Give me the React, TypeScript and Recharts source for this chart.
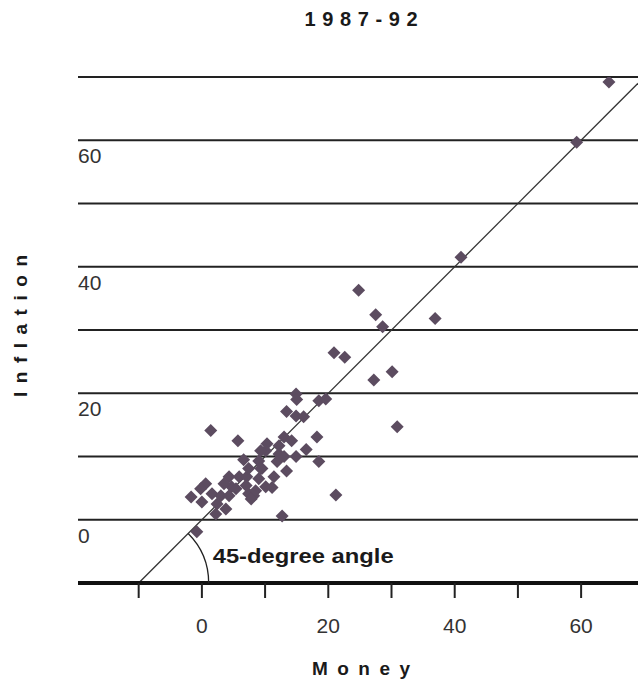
import React from 'react';
import { ScatterChart, Scatter, XAxis, YAxis, CartesianGrid, ReferenceLine, ReferenceDot } from 'recharts';

const title = '1987-92';
const xLabel = 'Money';
const yLabel = 'Inflation';
const angleNote = '45-degree angle';

const xTicks = [-10, 0, 10, 20, 30, 40, 50, 60];
const xTickLabels = ['', '0', '', '20', '', '40', '', '60'];
const yTicks = [-10, 0, 10, 20, 30, 40, 50, 60, 70];
const yTickLabels = ['', '0', '', '20', '', '40', '', '60', ''];

const money = [
  64.4, 59.3, 41.0, 24.8, 27.5, 28.6, 36.9, 20.9, 22.6, 27.2,
  30.1, 30.9, 14.9, 15.0, 18.5, 19.6, 13.4, 14.9, 16.1, 1.4,
  5.7, 13.0, 14.2, 18.2, 10.3, 12.2, 10.1, 16.5, 14.9, 12.2,
  6.6, 9.0, 11.9, 18.5, 13.4, 9.5, 4.3, 5.9, 7.1, 9.0,
  10.1, 11.1, 0.6, -0.2, -1.7, 1.6, 3.0, 4.3, 7.4, 8.2,
  8.5, 0.0, 2.4, 3.8, 2.2, 21.2, 12.7, -0.8, 7.8, 7.0,
  4.7, 9.3, 9.3, 11.4, 7.4, 5.4, 13.0, 3.5,
];
const inflation = [
  69.2, 59.7, 41.5, 36.3, 32.4, 30.5, 31.8, 26.4, 25.7, 22.1,
  23.4, 14.7, 19.9, 19.0, 18.8, 19.1, 17.1, 16.4, 16.3, 14.1,
  12.5, 13.1, 12.5, 13.1, 12.0, 11.7, 10.9, 11.1, 10.0, 10.4,
  9.5, 9.3, 9.2, 9.2, 7.7, 8.1, 6.8, 6.8, 6.8, 6.5,
  5.2, 5.1, 5.7, 4.9, 3.6, 4.1, 3.8, 3.8, 4.1, 3.8,
  4.6, 2.8, 2.5, 1.7, 0.9, 3.9, 0.6, -1.9, 3.3, 5.4,
  5.2, 10.9, 8.1, 6.8, 8.1, 4.9, 10.0, 5.7,
];

const points = money.map((m, i) => ({ money: m, inflation: inflation[i] }));

const FONT = '"Liberation Sans", Arial, sans-serif';
const DOT = '#5c4c60';

const Diamond = (p: any) => {
  const { cx, cy } = p;
  if (cx == null || cy == null) return null;
  const r = 6.5;
  return (
    <path
      d={`M${cx},${cy - r}L${cx + r},${cy}L${cx},${cy + r}L${cx - r},${cy}Z`}
      fill={DOT}
    />
  );
};

const AngleMark = (p: any) => {
  const { cx, cy } = p;
  if (cx == null || cy == null) return null;
  const R = 70;
  const d = R * Math.SQRT1_2;
  return (
    <g>
      <path
        d={`M${cx + d},${cy - d} A${R},${R} 0 0 1 ${cx + R},${cy}`}
        fill="none"
        stroke="#222"
        strokeWidth={1.3}
      />
      <text
        x={cx + 74}
        y={cy - 20}
        fontFamily={FONT}
        fontWeight="bold"
        fontSize={20}
        fill="#1a1a1a"
        textLength={181}
        lengthAdjust="spacingAndGlyphs"
      >
        {angleNote}
      </text>
    </g>
  );
};

const XTick = (p: any) => {
  const { x, y, payload } = p;
  const idx = xTicks.indexOf(payload.value);
  const label = idx >= 0 ? xTickLabels[idx] : '';
  return (
    <text x={x} y={y + 33} textAnchor="middle" fontFamily={FONT} fontSize={21} fill="#333">
      {label}
    </text>
  );
};

const YTick = (p: any) => {
  const { x, y, payload } = p;
  const idx = yTicks.indexOf(payload.value);
  const label = idx >= 0 ? yTickLabels[idx] : '';
  return (
    <text x={x} y={y + 23} textAnchor="start" fontFamily={FONT} fontSize={21} fill="#333">
      {label}
    </text>
  );
};

export default function App() {
  return (
    <div style={{ position: 'absolute', left: 0, top: 0, width: 638, height: 682, background: '#fff' }}>
      <ScatterChart
        width={638}
        height={682}
        margin={{ top: 77, right: 0, bottom: 39, left: 78 }}
      >
        <CartesianGrid horizontal vertical={false} stroke="#222" strokeWidth={2} />
        <XAxis
          type="number"
          dataKey="money"
          domain={[-19.6, 69]}
          ticks={xTicks}
          allowDataOverflow
          height={60}
          axisLine={{ stroke: '#111', strokeWidth: 4 }}
          tickLine={{ stroke: '#222', strokeWidth: 2 }}
          tickSize={15}
          tick={<XTick />}
          interval={0}
        />
        <YAxis
          type="number"
          dataKey="inflation"
          domain={[-10, 70]}
          ticks={yTicks}
          allowDataOverflow
          width={1}
          mirror
          axisLine={false}
          tickLine={false}
          tickSize={0}
          tickMargin={0}
          tick={<YTick />}
          interval={0}
        />
        <ReferenceLine
          segment={[{ x: -10, y: -10 }, { x: 69, y: 69 }]}
          stroke="#333"
          strokeWidth={1.3}
        />
        <ReferenceDot x={-10} y={-10} shape={<AngleMark />} />
        <Scatter data={points} shape={<Diamond />} isAnimationActive={false} />
      </ScatterChart>
      <svg
        width={638}
        height={682}
        style={{ position: 'absolute', left: 0, top: 0, pointerEvents: 'none' }}
      >
        <text
          x={361}
          y={26}
          textAnchor="middle"
          fontFamily={FONT}
          fontWeight="bold"
          fontSize={20}
          fill="#1a1a1a"
          textLength={113}
          lengthAdjust="spacing"
        >
          {title}
        </text>
        <text
          x={361}
          y={675}
          textAnchor="middle"
          fontFamily={FONT}
          fontWeight="bold"
          fontSize={19}
          fill="#1a1a1a"
          textLength={98}
          lengthAdjust="spacing"
        >
          {xLabel}
        </text>
        <text
          transform="translate(27,326) rotate(-90)"
          textAnchor="middle"
          fontFamily={FONT}
          fontWeight="bold"
          fontSize={19}
          fill="#1a1a1a"
          textLength={142}
          lengthAdjust="spacing"
        >
          {yLabel}
        </text>
      </svg>
    </div>
  );
}
